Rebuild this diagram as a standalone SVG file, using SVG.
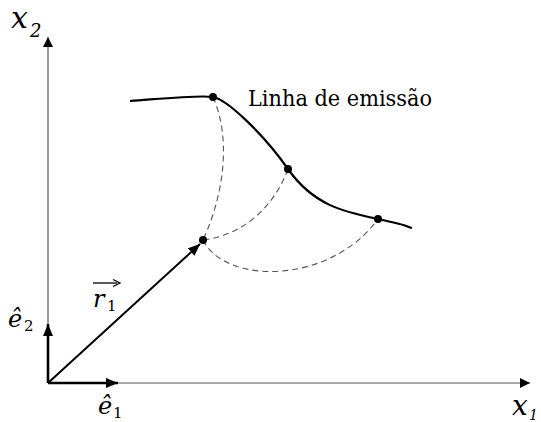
<svg xmlns="http://www.w3.org/2000/svg" width="541" height="422" viewBox="0 0 541 422">
<style>
.axis{stroke:#555;stroke-width:1.2;fill:none}
.vec{stroke:#000;fill:none}
.dash{stroke:#555;stroke-width:1.1;fill:none;stroke-dasharray:6 4}
.ser{font-family:'DejaVu Serif',serif;fill:#000}
.it{font-style:italic}
</style>
<defs>
<marker id="ah" markerWidth="10" markerHeight="10" refX="10" refY="5" orient="auto" markerUnits="userSpaceOnUse"><path d="M0,0 L10,5 L0,10 Z" fill="#000"/></marker>
<marker id="ah2" markerWidth="12" markerHeight="10" refX="12" refY="5" orient="auto" markerUnits="userSpaceOnUse"><path d="M0,0 L12,5 L0,10 Z" fill="#000"/></marker>
</defs>
<rect width="541" height="422" fill="#fff"/>
<g id="connectors">
<line class="axis" x1="48" y1="383" x2="48" y2="37" marker-end="url(#ah)"/>
<line class="axis" x1="48" y1="383" x2="530" y2="383" marker-end="url(#ah)"/>
<line class="vec" stroke-width="2.6" x1="48" y1="383" x2="48" y2="324" marker-end="url(#ah2)"/>
<line class="vec" stroke-width="2.6" x1="48" y1="383" x2="118" y2="383" marker-end="url(#ah2)"/>
<line class="vec" stroke-width="2" x1="48" y1="383" x2="200" y2="244" marker-end="url(#ah2)"/>
<path class="dash" d="M213,97 C230,135 226,190 203,240"/>
<path class="dash" d="M288,169 C272,212 238,236 203,240"/>
<path class="dash" d="M203,240 C225,285 330,285 378,219"/>
</g>
<g id="emission-line">
<path d="M130,101 C170,98 200,95 213,97 S262,132 288,169 S345,212 378,219 S405,226 412,228" stroke="#000" stroke-width="2.2" fill="none"/>
<text class="ser" x="248" y="106" font-size="23" textLength="184" lengthAdjust="spacingAndGlyphs">Linha de emissão</text>
</g>
<g id="points">
<circle cx="213" cy="97" r="4"/>
<circle cx="288" cy="169" r="4"/>
<circle cx="378" cy="219" r="4"/>
<circle cx="203" cy="240" r="4"/>
</g>
<g id="label-x2">
<text class="ser it" x="11" y="28" font-size="30">x</text>
<text class="ser it" x="30" y="37" font-size="18">2</text>
</g>
<g id="label-x1">
<text class="ser it" x="512" y="415" font-size="28">x</text>
<text class="ser it" x="529" y="420" font-size="14">1</text>
</g>
<g id="label-e2">
<text class="ser it" x="8" y="327" font-size="24">ê</text>
<text class="ser" x="24" y="331" font-size="15">2</text>
</g>
<g id="label-e1">
<text class="ser it" x="98" y="414" font-size="24">ê</text>
<text class="ser" x="113" y="418" font-size="15">1</text>
</g>
<g id="label-r1">
<text class="ser it" x="93" y="307" font-size="24">r</text>
<text class="ser" x="107" y="311" font-size="15">1</text>
<line x1="93" y1="283" x2="117" y2="283" stroke="#000" stroke-width="1.3"/>
<path d="M113,279.5 L120,283 L113,286.5" stroke="#000" stroke-width="1.3" fill="none"/>
</g>
</svg>
